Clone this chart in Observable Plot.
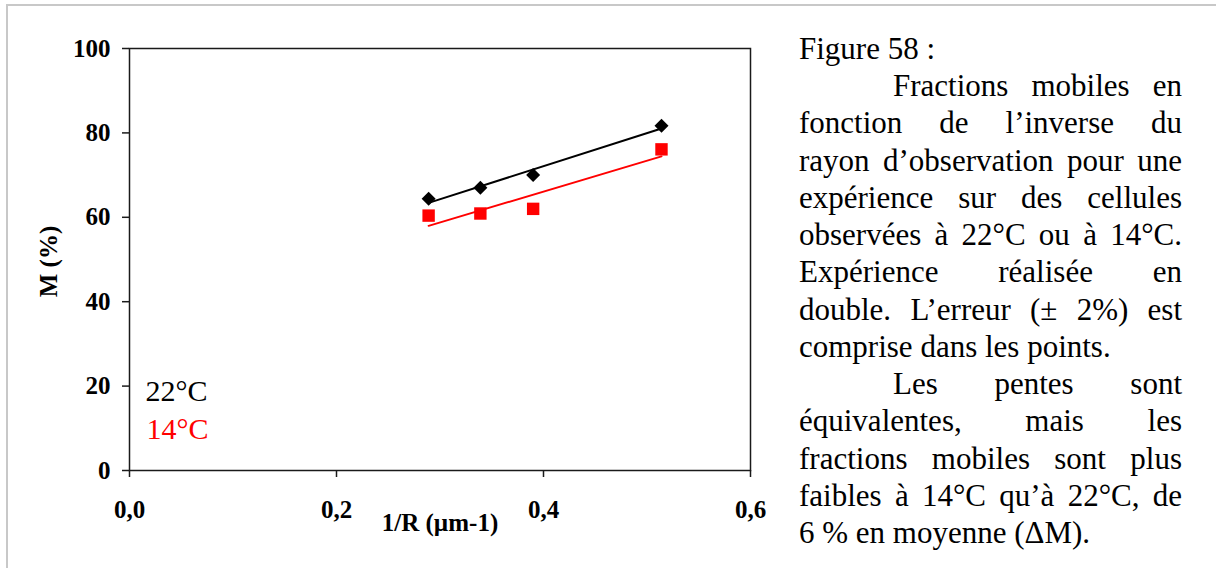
<!DOCTYPE html>
<html>
<head>
<meta charset="utf-8">
<script src="https://cdn.jsdelivr.net/npm/d3@7"></script>
<script src="https://cdn.jsdelivr.net/npm/@observablehq/plot@0.6"></script>
<style>
  html, body { margin: 0; padding: 0; background: #fff; width: 1216px; height: 568px; overflow: hidden; }
  #wrap { position: relative; width: 1216px; height: 568px; overflow: hidden; background: #fff; }
  #border { position: absolute; left: 6px; top: 4px; width: 1400px; height: 800px;
            border-top: 2px solid #c8c8c8; border-left: 2px solid #c8c8c8; }
  #chart { position: absolute; left: 0; top: 0; }
  #caption { position: absolute; left: 799px; top: 30px; width: 383px;
             font-family: "Liberation Serif", "Times New Roman", serif; font-size: 31px;
             line-height: 37.23px; color: #000; }
  #caption .l { text-align: left; }
  #caption .j { text-align: justify; text-align-last: justify; }
  #caption .i { text-indent: 94px; }
  #chart svg [aria-label="x-axis tick label"], #chart svg [aria-label="y-axis tick label"] { font-weight: bold; }
</style>
</head>
<body>
<div id="wrap">
  <div id="border"></div>
  <div id="chart"></div>
  <div id="caption"></div>
</div>
<script>
// ---- data ----
const xInv = [0.289, 0.339, 0.390, 0.514];
const m22 = [64.4, 67.0, 70.0, 81.7];
const m14 = [60.4, 60.9, 62.0, 76.1];
const seriesNames = ["22°C", "14°C"];
const seriesColors = ["#000000", "#ff0000"];
const xTicks = [0, 0.2, 0.4, 0.6];
const yTicks = [0, 20, 40, 60, 80, 100];
const xLabel = "1/R (µm-1)";
const yLabel = "M (%)";
const captionLines = [
  ["l", "Figure 58 :"],
  ["j i", "Fractions mobiles en"],
  ["j", "fonction de l’inverse du"],
  ["j", "rayon d’observation pour une"],
  ["j", "expérience sur des cellules"],
  ["j", "observées à 22°C ou à 14°C."],
  ["j", "Expérience réalisée en"],
  ["j", "double. L’erreur (± 2%) est"],
  ["l", "comprise dans les points."],
  ["j i", "Les pentes sont"],
  ["j", "équivalentes, mais les"],
  ["j", "fractions mobiles sont plus"],
  ["j", "faibles à 14°C qu’à 22°C, de"],
  ["l", "6 % en moyenne (ΔM)."]
];

const d22 = xInv.map((x, i) => ({x, m: m22[i]}));
const d14 = xInv.map((x, i) => ({x, m: m14[i]}));
const fmt = d => d.toFixed(1).replace(".", ",");
const serif = '"Liberation Serif", "Times New Roman", serif';

const chart = Plot.plot({
  width: 780,
  height: 568,
  marginLeft: 129,
  marginRight: 30,
  marginTop: 48,
  marginBottom: 98,
  style: {fontFamily: serif, background: "transparent", color: "#000", overflow: "visible"},
  x: {domain: [0, 0.6]},
  y: {domain: [0, 100]},
  marks: [
    Plot.frame({stroke: "#1a1a1a", strokeWidth: 1.5}),
    Plot.axisX({ticks: xTicks, tickFormat: fmt, tickSize: 7, tickPadding: 23, fontSize: 25,
                fontWeight: "bold", label: null, stroke: "#1a1a1a", strokeWidth: 1.5}),
    Plot.axisY({ticks: yTicks, tickSize: 7, tickPadding: 12, fontSize: 25,
                fontWeight: "bold", label: null, stroke: "#1a1a1a", strokeWidth: 1.5}),
    Plot.linearRegressionY(d22, {x: "x", y: "m", stroke: seriesColors[0], strokeWidth: 2, ci: 0}),
    Plot.linearRegressionY(d14, {x: "x", y: "m", stroke: seriesColors[1], strokeWidth: 2, ci: 0}),
    Plot.dot(d22, {x: "x", y: "m", symbol: "diamond2", r: 6.3, fill: seriesColors[0], stroke: "none"}),
    Plot.dot(d14, {x: "x", y: "m", symbol: "square", r: 7, fill: seriesColors[1], stroke: "none"}),
    Plot.text([xLabel], {text: d => d, frameAnchor: "bottom", lineAnchor: "bottom", dy: 60,
                         fontSize: 25, fontWeight: "bold", fill: "#000"}),
    Plot.text([yLabel], {text: d => d, frameAnchor: "left", rotate: -90, lineAnchor: "bottom",
                         textAnchor: "middle", dx: -73, dy: 2, fontSize: 25, fontWeight: "bold", fill: "#000"}),
    Plot.text([seriesNames[0]], {text: d => d, frameAnchor: "bottom-left", textAnchor: "start",
                         lineAnchor: "bottom", dx: 16, dy: -70, fontSize: 30, fill: seriesColors[0]}),
    Plot.text([seriesNames[1]], {text: d => d, frameAnchor: "bottom-left", textAnchor: "start",
                         lineAnchor: "bottom", dx: 17, dy: -32, fontSize: 30, fill: seriesColors[1]})
  ]
});
document.getElementById("chart").appendChild(chart);

const cap = document.getElementById("caption");
for (const [cls, txt] of captionLines) {
  const div = document.createElement("div");
  div.className = cls;
  div.textContent = txt;
  cap.appendChild(div);
}
</script>
</body>
</html>
